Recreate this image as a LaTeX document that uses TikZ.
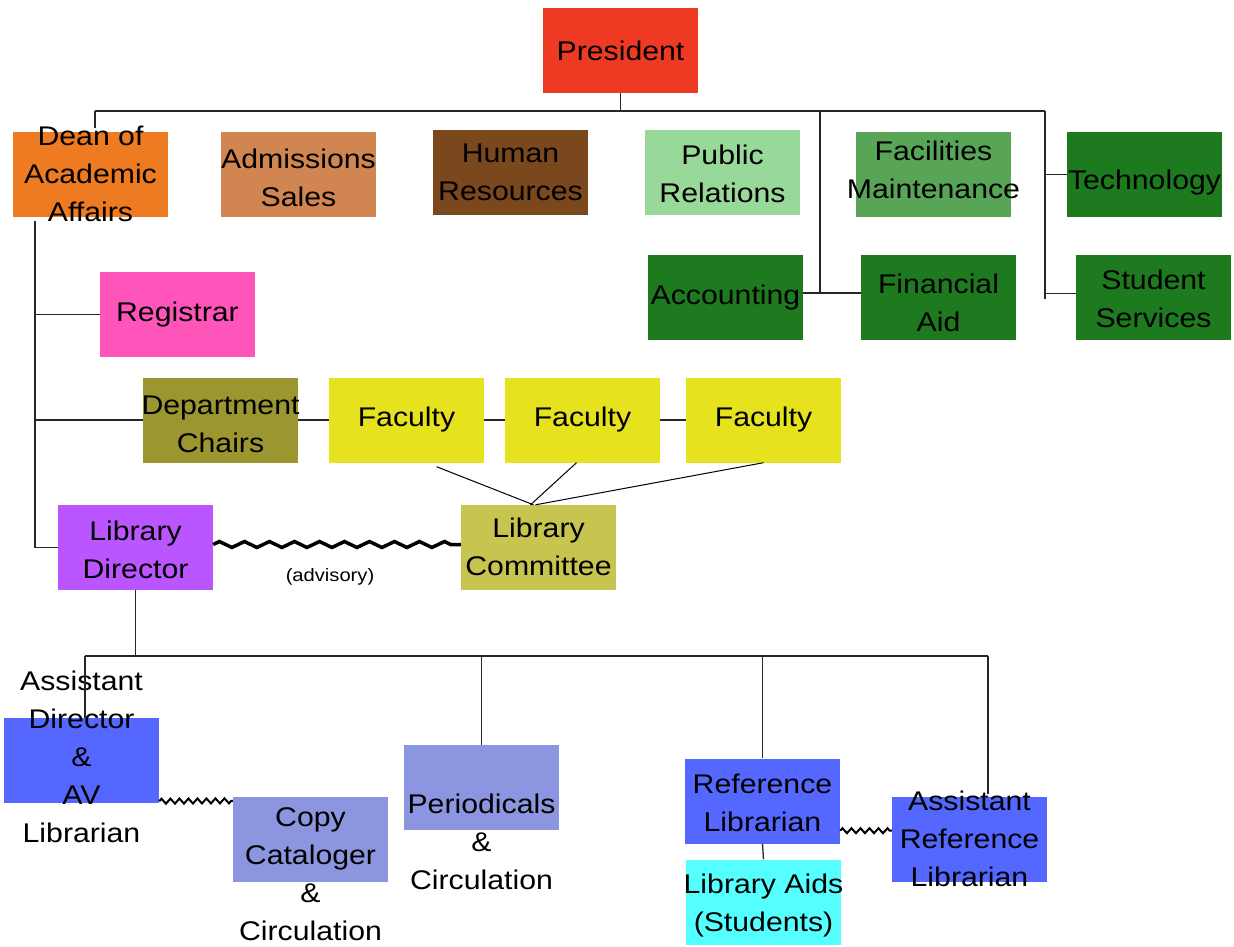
\documentclass[tikz,border=0pt]{standalone}
\usepackage{fontspec}
\setmainfont[FakeStretch=1.12]{Liberation Sans}
\usetikzlibrary{calc,decorations.pathmorphing}
\definecolor{cPres}{HTML}{EE3A22}
\definecolor{cDean}{HTML}{EE7A22}
\definecolor{cAdm}{HTML}{D18550}
\definecolor{cHR}{HTML}{7A481C}
\definecolor{cPR}{HTML}{98D898}
\definecolor{cFac}{HTML}{58A558}
\definecolor{cDark}{HTML}{1E7A1E}
\definecolor{cReg}{HTML}{FF55BB}
\definecolor{cDept}{HTML}{9B9630}
\definecolor{cFaculty}{HTML}{E6E21E}
\definecolor{cCom}{HTML}{C8C450}
\definecolor{cDir}{HTML}{BB55FF}
\definecolor{cBlue}{HTML}{5468FF}
\definecolor{cLBlue}{HTML}{8C96E0}
\definecolor{cCyan}{HTML}{55FFFF}
\newcommand\mainfs{\fontsize{27}{38}\selectfont}
\newcommand\smallfs{\fontsize{18}{22}\selectfont}
% overflowing multi-line text that does not change the box size
\newcommand\ov[2][0pt]{\makebox[0pt]{\smash{\raisebox{\dimexpr-8.75pt+#1\relax}{\begin{tabular}{@{}c@{}}#2\end{tabular}}}}}
\begin{document}
\begin{tikzpicture}[x=1pt,y=-1pt,
  box/.style={rectangle, draw=none, fill=#1, minimum width=155pt, minimum height=85pt,
    inner sep=0pt, align=center, font=\mainfs, text=black},
  txt/.style={inner sep=0pt, align=center, font=\mainfs, text=black},
  conn/.style={draw=black!85, line width=1.3pt},
  zigbig/.style={draw=black, line width=3.5pt, decorate,
    decoration={zigzag, segment length=25pt, amplitude=3pt}},
  zigsmall/.style={draw=black, line width=2pt, decorate,
    decoration={zigzag, segment length=9pt, amplitude=2.5pt}}]
\useasboundingbox (0,0) rectangle (1234,946);
\fill[white] (0,0) rectangle (1234,946);

% top level
\node[box=cPres] (pres) at (620.5,50.5) {President};
\node[box=cDean] (dean) at (90.5,174.5) {\ov[1pt]{Dean of\\Academic\\Affairs}};
\node[box=cAdm] (adm) at (298.5,174.5) {\ov[-3pt]{Admissions\\Sales}};
\node[box=cHR] (hr) at (510.5,172.5) {\ov[1pt]{Human\\Resources}};
\node[box=cPR] (pr) at (722.5,172.5) {\ov[-1pt]{Public\\Relations}};
\node[box=cFac] (fac) at (933.5,174.5) {\ov[5pt]{Facilities\\Maintenance}};
\node[box=cDark] (tech) at (1144.5,174.5) {\ov[-5pt]{Technology}};
\node[box=cDark] (acc) at (725.5,297.5) {Accounting};
\node[box=cDark] (fin) at (938.5,297.5) {\ov[-5pt]{Financial\\Aid}};
\node[box=cDark] (stu) at (1153.5,297.5) {\ov[-1pt]{Student\\Services}};

% academic side
\node[box=cReg] (reg) at (177.5,314.5) {Registrar};
\node[box=cDept] (dept) at (220.5,420) {\ov[-3pt]{Department\\Chairs}};
\node[box=cFaculty] (f1) at (406.5,420) {Faculty};
\node[box=cFaculty] (f2) at (582.5,420) {Faculty};
\node[box=cFaculty] (f3) at (763.5,420) {Faculty};
\node[box=cCom] (com) at (538.5,547.5) {\ov[1pt]{Library\\Committee}};
\node[box=cDir] (dir) at (135.5,547.5) {\ov[-2pt]{Library\\Director}};
\node[inner sep=0pt, font=\smallfs] (adv) at (330,577) {(advisory)};

% library staff
\node[box=cBlue] (adav) at (81.5,760.5) {\ov[4pt]{Assistant\\Director\\\&\\AV\\Librarian}};
\node[box=cLBlue] (cc) at (310.5,839.5) {};
\node[txt] (cct) at (310.5,874) {Copy\\Cataloger\\\&\\Circulation};
\node[box=cLBlue] (per) at (481.5,787.5) {};
\node[txt] (pert) at (481.5,842) {Periodicals\\\&\\Circulation};
\node[box=cBlue] (ref) at (762.5,801) {\ov[-1pt]{Reference\\Librarian}};
\node[box=cCyan] (aids) at (763.5,902) {\ov{Library Aids\\(Students)}};
\node[box=cBlue] (aref) at (969.5,839.5) {\ov[1pt]{Assistant\\Reference\\Librarian}};

% top bus
\coordinate (busL) at (95,111);
\coordinate (busR) at (1045,111);
\coordinate (v1) at (820,111);
\coordinate (v1b) at (820,293);
\coordinate (v2b) at (1045,299);
\draw[conn] (busL) -- (busR);
\draw[conn] (pres.south) -- (pres.south |- busL);
\draw[conn] (busL) -- ($(busL |- dean.north)+(0,-4)$);
\draw[conn] ($(adm.north)+(-5,0)$) -- ($(adm.north)+(-5,0)$ |- busL);
\draw[conn] ($(hr.north)+(-3,0)$) -- ($(hr.north)+(-3,0)$ |- busL);
\draw[conn] (v1) -- (v1b);
\draw[conn] (busR) -- (v2b);
\draw[conn] ($(pr.east)+(0,4)$) -- ($(pr.east)+(0,4)$ -| fac.west);
\draw[conn] (acc.east |- v1b) -- (fin.west |- v1b);
\draw[conn] (busR |- tech.west) -- (tech.west);
\draw[conn] ($(busR |- stu.west)+(0,-4)$) -- ($(stu.west)+(0,-4)$);

% dean line
\coordinate (dv) at (35,0);
\draw[conn] ($(dean.south -| dv)+(0,4)$) -- (dv |- dir.west);
\draw[conn] (dv |- reg.west) -- (reg.west);
\draw[conn] (dv |- dept.west) -- (dept.west);
\draw[conn] (dv |- dir.west) -- (dir.west);
\draw[conn] (dept.east) -- (f1.west);
\draw[conn] (f1.east) -- (f2.west);
\draw[conn] (f2.east) -- (f3.west);
\draw[line width=1pt] ($(f1.south)+(30,4)$) -- ($(com.north)+(-5,0)$);
\draw[line width=1pt] ($(f2.south)+(-6,0)$) -- ($(com.north)+(-8,0)$);
\draw[line width=1pt] (f3.south) -- ($(com.north)+(-3,0)$);
\draw[zigbig] ($(dir.east)+(0,-3)$) -- ($(com.west)+(0,-3)$);

% library bus
\coordinate (b2L) at (85,656);
\coordinate (b2R) at (988,656);
\draw[conn] (b2L) -- (b2R);
\draw[conn] (dir.south) -- (dir.south |- b2L);
\draw[conn] (b2L) -- (b2L |- adav.north);
\draw[conn] ($(cc.north)+(-8,0)$ |- b2L) -- ($(cc.north)+(-8,0)$);
\draw[conn] (per.north |- b2L) -- (per.north);
\draw[conn] (ref.north |- b2L) -- (ref.north);
\draw[conn] (b2R) -- ($(aref.north)+(18.5,-3)$);
\draw[conn] (ref.south) -- (aids.north);
\draw[zigsmall] ($(adav.south east)+(0,-2)$) -- ($(cc.north west)+(0,4)$);
\draw[zigsmall] ($(ref.south east)+(0,-13)$) -- ($(aref.west |- ref.south)+(0,-13)$);
\end{tikzpicture}
\end{document}
